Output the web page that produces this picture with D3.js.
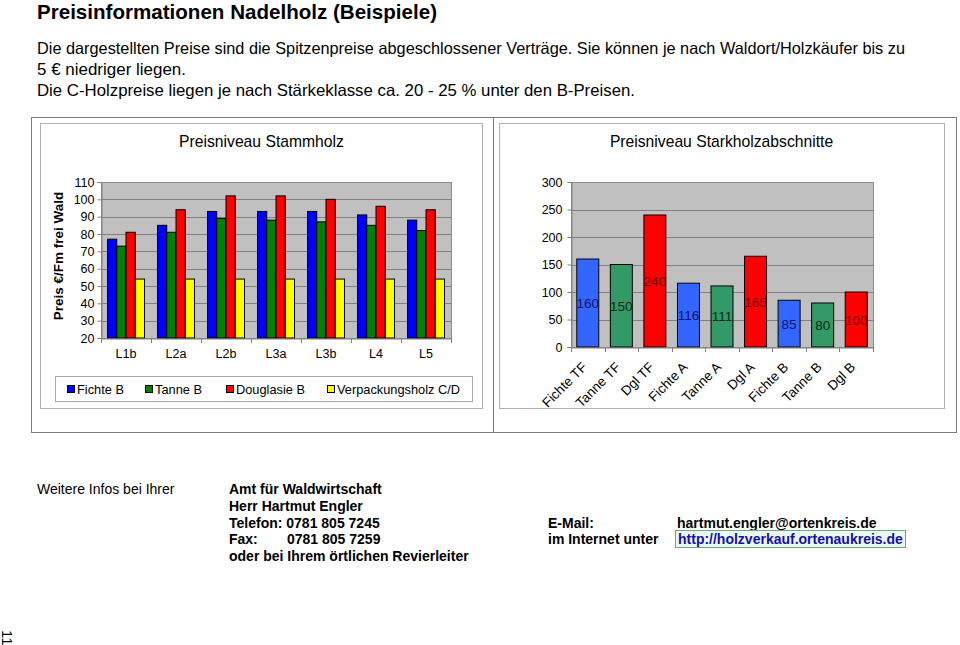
<!DOCTYPE html>
<html><head><meta charset="utf-8">
<script src="https://cdn.jsdelivr.net/npm/d3@7"></script>
<style>
html,body{margin:0;padding:0;background:#fff;}
svg text{font-family:"Liberation Sans",Arial,sans-serif;}
</style></head>
<body>
<svg id="page" width="960" height="645"></svg>
<script>
// ---------- data ----------
const stammCategories = ["L1b","L2a","L2b","L3a","L3b","L4","L5"];
const stammSeries = ["Fichte B","Tanne B","Douglasie B","Verpackungsholz C/D"];
const fichteB = [77,85,93,93,93,91,88];
const tanneB = [73,81,89,88,87,85,82];
const douglasieB = [81,94,102,102,100,96,94];
const verpackungsholz = [54,54,54,54,54,54,54];
const stammTicks = [20,30,40,50,60,70,80,90,100,110];

const starkCategories = ["Fichte TF","Tanne TF","Dgl TF","Fichte A","Tanne A","Dgl A","Fichte B","Tanne B","Dgl B"];
const starkSpecies = ["Fichte","Tanne","Dgl","Fichte","Tanne","Dgl","Fichte","Tanne","Dgl"];
const starkValues = [160,150,240,116,111,165,85,80,100];
const starkTicks = [0,50,100,150,200,250,300];

// ---------- styles ----------
const stammColors = {"Fichte B":"#0000ff","Tanne B":"#008000","Douglasie B":"#ff0000","Verpackungsholz C/D":"#ffff00"};
const starkColors = {"Fichte":"#3366ff","Tanne":"#339966","Dgl":"#ff0000"};
const starkLabelColors = {"Fichte":"#0c1470","Tanne":"#0a2a14","Dgl":"#700000"};
const stammTable = stammCategories.map((c,i)=>({cat:c, values:[fichteB[i],tanneB[i],douglasieB[i],verpackungsholz[i]]}));

const svg = d3.select("#page");

// ---------- header text ----------
svg.append("text").attr("x",37).attr("y",19).attr("font-size",20.5).attr("font-weight","bold")
  .attr("textLength",400).attr("lengthAdjust","spacingAndGlyphs")
  .text("Preisinformationen Nadelholz (Beispiele)");
const intro = [
  "Die dargestellten Preise sind die Spitzenpreise abgeschlossener Verträge. Sie können je nach Waldort/Holzkäufer bis zu",
  "5 € niedriger liegen.",
  "Die C-Holzpreise liegen je nach Stärkeklasse ca. 20 - 25 % unter den B-Preisen."
];
const introLen = [868,149,598];
svg.selectAll("text.intro").data(intro).enter().append("text").attr("class","intro")
  .attr("x",37).attr("y",(d,i)=>54+i*21).attr("font-size",16.5)
  .attr("textLength",(d,i)=>introLen[i]).attr("lengthAdjust","spacingAndGlyphs").text(d=>d);

// ---------- frames ----------
svg.append("rect").attr("x",31.5).attr("y",117.5).attr("width",925).attr("height",315)
  .attr("fill","none").attr("stroke","#7a7a7a");
svg.append("line").attr("x1",493.5).attr("x2",493.5).attr("y1",117.5).attr("y2",432.5).attr("stroke","#7a7a7a");
svg.append("rect").attr("x",40.5).attr("y",123.5).attr("width",442).attr("height",285)
  .attr("fill","#fff").attr("stroke","#b0b0b0");
svg.append("rect").attr("x",499.5).attr("y",123.5).attr("width",445).attr("height",285)
  .attr("fill","#fff").attr("stroke","#b0b0b0");

svg.append("text").attr("x",261.5).attr("y",147).attr("text-anchor","middle").attr("font-size",15.7)
  .text("Preisniveau Stammholz");
svg.append("text").attr("x",721.5).attr("y",147).attr("text-anchor","middle").attr("font-size",15.7)
  .text("Preisniveau Starkholzabschnitte");

// ---------- left chart ----------
const L = {x0:101, x1:451, y0:182, y1:338};
const yL = d3.scaleLinear().domain([20,110]).range([L.y1,L.y0]);
const xL = d3.scaleBand().domain(stammCategories).range([L.x0,L.x1]).paddingInner(0.26).paddingOuter(0.13);
const xLs = d3.scaleBand().domain(stammSeries).range([0,xL.bandwidth()]);

const gL = svg.append("g");
gL.append("rect").attr("x",L.x0+0.5).attr("y",L.y0+0.5).attr("width",L.x1-L.x0).attr("height",L.y1-L.y0)
  .attr("fill","#c0c0c0").attr("stroke","#8c8c8c");
gL.selectAll("line.grid").data(stammTicks.slice(1,-1)).enter().append("line")
  .attr("x1",L.x0).attr("x2",L.x1).attr("y1",d=>Math.round(yL(d))+0.5).attr("y2",d=>Math.round(yL(d))+0.5)
  .attr("stroke","#808080");
gL.selectAll("g.grp").data(stammTable).enter().append("g")
  .attr("transform",d=>`translate(${xL(d.cat)},0)`)
  .selectAll("rect").data(d=>d.values.map((v,i)=>({s:stammSeries[i],v}))).enter().append("rect")
  .attr("x",d=>xLs(d.s)).attr("width",xLs.bandwidth())
  .attr("y",d=>yL(d.v)).attr("height",d=>yL(20)-yL(d.v))
  .attr("fill",d=>stammColors[d.s]).attr("stroke","#000").attr("stroke-width",1);

const yAxisL = d3.axisLeft(yL).tickValues(stammTicks).tickSize(4).tickPadding(3);
const axL = gL.append("g").attr("transform",`translate(${L.x0+0.5},0)`).call(yAxisL);
axL.select(".domain").attr("stroke","#808080");
axL.selectAll(".tick line").attr("stroke","#808080");
axL.selectAll("text").attr("font-size",12.5).attr("fill","#000").attr("font-family","Liberation Sans, Arial, sans-serif");

const xAxisL = d3.axisBottom(xL).tickSize(0).tickPadding(11);
const axLx = gL.append("g").attr("transform",`translate(0,${L.y1+0.5})`).call(xAxisL);
axLx.select(".domain").attr("stroke","#808080");
axLx.selectAll("text").attr("font-size",12.5).attr("fill","#000").attr("font-family","Liberation Sans, Arial, sans-serif");
const stepL = xL.step();
gL.selectAll("line.xt").data(d3.range(stammCategories.length+1)).enter().append("line")
  .attr("x1",i=>Math.round(L.x0+i*stepL)+0.5).attr("x2",i=>Math.round(L.x0+i*stepL)+0.5)
  .attr("y1",L.y1).attr("y2",L.y1+5).attr("stroke","#808080");

gL.append("text").attr("transform",`translate(63,${(L.y0+L.y1)/2-4}) rotate(-90)`)
  .attr("text-anchor","middle").attr("font-size",13.5).attr("font-weight","bold")
  .text("Preis €/Fm frei Wald");

// legend
const lg = svg.append("g");
lg.append("rect").attr("x",55.5).attr("y",376.5).attr("width",417).attr("height",25)
  .attr("fill","#fff").attr("stroke","#a8a8a8");
const legendX = [67,145,226,327];
stammSeries.forEach((s,i)=>{
  lg.append("rect").attr("x",legendX[i]+0.5).attr("y",385.5).attr("width",7).attr("height",7)
    .attr("fill",stammColors[s]).attr("stroke","#000");
  lg.append("text").attr("x",legendX[i]+10).attr("y",393.5).attr("font-size",12.8).text(s);
});

// ---------- right chart ----------
const R = {x0:571, x1:873, y0:182, y1:347};
const yR = d3.scaleLinear().domain([0,300]).range([R.y1,R.y0]);
const xR = d3.scaleBand().domain(starkCategories).range([R.x0,R.x1]).paddingInner(0.345).paddingOuter(0.1725);
const gR = svg.append("g");
gR.append("rect").attr("x",R.x0+0.5).attr("y",R.y0+0.5).attr("width",R.x1-R.x0).attr("height",R.y1-R.y0)
  .attr("fill","#c0c0c0").attr("stroke","#8c8c8c");
gR.selectAll("line.grid").data(starkTicks.slice(1,-1)).enter().append("line")
  .attr("x1",R.x0).attr("x2",R.x1).attr("y1",d=>Math.round(yR(d))+0.5).attr("y2",d=>Math.round(yR(d))+0.5)
  .attr("stroke","#808080");
const starkData = starkCategories.map((c,i)=>({cat:c, sp:starkSpecies[i], v:starkValues[i]}));
gR.selectAll("rect.bar").data(starkData).enter().append("rect").attr("class","bar")
  .attr("x",d=>xR(d.cat)).attr("width",xR.bandwidth())
  .attr("y",d=>yR(d.v)).attr("height",d=>yR(0)-yR(d.v))
  .attr("fill",d=>starkColors[d.sp]).attr("stroke","#000");
gR.selectAll("text.lbl").data(starkData).enter().append("text").attr("class","lbl")
  .attr("x",d=>xR(d.cat)+xR.bandwidth()/2).attr("y",d=>yR(d.v/2)+5)
  .attr("text-anchor","middle").attr("font-size",13.5).attr("fill",d=>starkLabelColors[d.sp])
  .text(d=>d.v);

const yAxisR = d3.axisLeft(yR).tickValues(starkTicks).tickSize(4).tickPadding(5);
const axR = gR.append("g").attr("transform",`translate(${R.x0+0.5},0)`).call(yAxisR);
axR.select(".domain").attr("stroke","#808080");
axR.selectAll(".tick line").attr("stroke","#808080");
axR.selectAll("text").attr("font-size",12.5).attr("fill","#000").attr("font-family","Liberation Sans, Arial, sans-serif");

const xAxisR = d3.axisBottom(xR).tickSize(0).tickFormat("");
const axRx = gR.append("g").attr("transform",`translate(0,${R.y1+0.5})`).call(xAxisR);
axRx.select(".domain").attr("stroke","#808080");
const stepR = xR.step();
gR.selectAll("line.xt").data(d3.range(starkCategories.length+1)).enter().append("line")
  .attr("x1",i=>Math.round(R.x0+i*stepR)+0.5).attr("x2",i=>Math.round(R.x0+i*stepR)+0.5)
  .attr("y1",R.y1).attr("y2",R.y1+5).attr("stroke","#808080");
gR.selectAll("text.cat").data(starkCategories).enter().append("text").attr("class","cat")
  .attr("transform",d=>`translate(${xR(d)+xR.bandwidth()/2},${R.y1+21}) rotate(-45)`)
  .attr("text-anchor","end").attr("font-size",13.5).text(d=>d);

// ---------- contact block ----------
const cb = svg.append("g").attr("font-size",14);
cb.append("text").attr("x",37).attr("y",494).text("Weitere Infos bei Ihrer");
const contactLines = ["Amt für Waldwirtschaft","Herr Hartmut Engler","Telefon: 0781 805 7245","Fax:","oder bei Ihrem örtlichen Revierleiter"];
contactLines.forEach((t,i)=>{
  cb.append("text").attr("x",229).attr("y",494+i*16.8).attr("font-weight","bold").text(t);
});
cb.append("text").attr("x",287).attr("y",494+3*16.8).attr("font-weight","bold").text("0781 805 7259");
cb.append("text").attr("x",548).attr("y",494+2*16.8).attr("font-weight","bold").text("E-Mail:");
cb.append("text").attr("x",548).attr("y",494+3*16.8).attr("font-weight","bold").text("im Internet unter");
cb.append("text").attr("x",677).attr("y",494+2*16.8).attr("font-weight","bold").text("hartmut.engler@ortenkreis.de");
cb.append("rect").attr("x",675.5).attr("y",530.5).attr("width",230).attr("height",17)
  .attr("fill","#eef7ee").attr("stroke","#5fae7f");
cb.append("text").attr("x",678).attr("y",494+3*16.8).attr("font-weight","bold").attr("fill","#1010b0")
  .text("http://holzverkauf.ortenaukreis.de");

// page number
svg.append("text").attr("transform","translate(2,630) rotate(90)").attr("font-size",15).text("11");
</script>
</body></html>
